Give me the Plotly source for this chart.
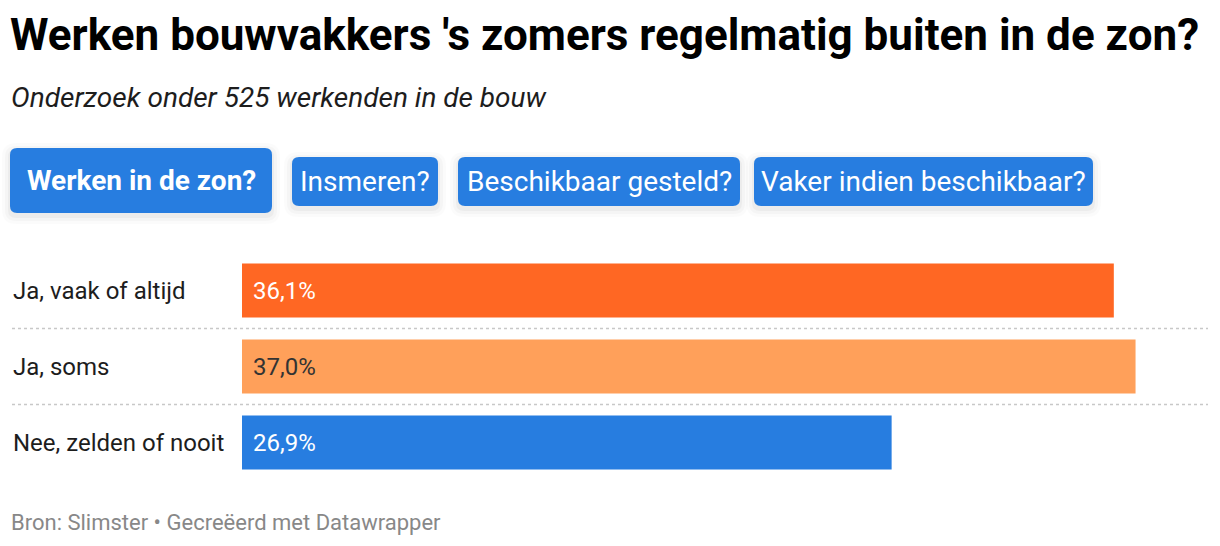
import plotly.graph_objects as go

W, H = 1220, 546

categories = ["Ja, vaak of altijd", "Ja, soms", "Nee, zelden of nooit"]
values = [36.1, 37.0, 26.9]
bar_colors = ["#ff6723", "#ffa05a", "#277de0"]
label_colors = ["#ffffff", "#333333", "#ffffff"]

title = "Werken bouwvakkers 's zomers regelmatig buiten in de zon?"
subtitle = "Onderzoek onder 525 werkenden in de bouw"
tabs = ["Werken in de zon?", "Insmeren?", "Beschikbaar gesteld?", "Vaker indien beschikbaar?"]
footer = "Bron: Slimster • Gecreëerd met Datawrapper"

FONT = "Roboto"


def px(x):
    return x / W


def py(y):
    return 1 - y / H


def rounded_rect(x0, y0, x1, y1, r):
    # pixel coords -> paper path with rounded corners
    pts = [
        f"M {px(x0 + r)} {py(y0)}",
        f"L {px(x1 - r)} {py(y0)}",
        f"Q {px(x1)} {py(y0)} {px(x1)} {py(y0 + r)}",
        f"L {px(x1)} {py(y1 - r)}",
        f"Q {px(x1)} {py(y1)} {px(x1 - r)} {py(y1)}",
        f"L {px(x0 + r)} {py(y1)}",
        f"Q {px(x0)} {py(y1)} {px(x0)} {py(y1 - r)}",
        f"L {px(x0)} {py(y0 + r)}",
        f"Q {px(x0)} {py(y0)} {px(x0 + r)} {py(y0)}",
        "Z",
    ]
    return " ".join(pts)


fig = go.Figure()
fig.add_trace(go.Bar(
    x=values,
    y=categories,
    orientation="h",
    marker=dict(color=bar_colors, line=dict(width=0)),
    width=0.71,
    hoverinfo="skip",
))

shapes = []
annotations = []

# tabs / buttons
tab_boxes = [(10, 148, 272, 213), (292, 157, 438, 206), (458, 157, 740, 206), (754, 157, 1093, 206)]
for i, (label, (x0, y0, x1, y1)) in enumerate(zip(tabs, tab_boxes)):
    # soft shadow
    for k, a in [(8, 0.015), (5, 0.025), (2, 0.035)]:
        shapes.append(dict(type="path", xref="paper", yref="paper",
                           path=rounded_rect(x0 - k, y0 - k + 3, x1 + k, y1 + k + 3, 6 + k),
                           fillcolor=f"rgba(0,0,0,{a})", line=dict(width=0), layer="below"))
    shapes.append(dict(type="path", xref="paper", yref="paper",
                       path=rounded_rect(x0, y0, x1, y1, 7),
                       fillcolor="#277de0", line=dict(width=0), layer="above"))
    annotations.append(dict(
        x=px((x0 + x1) / 2), y=py((y0 + y1) / 2), xref="paper", yref="paper",
        text=f"<b>{label}</b>" if i == 0 else label, showarrow=False,
        font=dict(family=FONT, size=28, color="white"),
        xanchor="center", yanchor="middle",
    ))

# separators between rows
for yv in [0.5, 1.5]:
    shapes.append(dict(type="line", xref="paper", yref="y", x0=px(12), x1=px(1208), y0=yv, y1=yv,
                       line=dict(color="#c8c8c8", width=1.5, dash="dot")))

# row labels and value labels
for cat, v, c in zip(categories, values, label_colors):
    annotations.append(dict(x=px(11), y=cat, xref="paper", yref="y", text=cat, showarrow=False,
                            xanchor="left", yanchor="middle",
                            font=dict(family=FONT, size=24, color="#1d1d1d")))
    annotations.append(dict(x=0, y=cat, xref="x", yref="y", xshift=9,
                            text=f"{v:.1f}%".replace(".", ","), showarrow=False,
                            xanchor="left", yanchor="middle",
                            font=dict(family=FONT, size=24, color=c)))

# title, subtitle, footer
annotations.append(dict(x=px(8), y=py(35), xref="paper", yref="paper", text=f"<b>{title}</b>",
                        showarrow=False, xanchor="left", yanchor="middle",
                        font=dict(family=FONT, size=44, color="#000000")))
annotations.append(dict(x=px(9), y=py(97), xref="paper", yref="paper", text=f"<i>{subtitle}</i>",
                        showarrow=False, xanchor="left", yanchor="middle",
                        font=dict(family=FONT, size=28, color="#1d1d1d")))
annotations.append(dict(x=px(9), y=py(522), xref="paper", yref="paper", text=footer,
                        showarrow=False, xanchor="left", yanchor="middle",
                        font=dict(family=FONT, size=22, color="#888888")))

fig.update_layout(
    width=W, height=H,
    margin=dict(l=0, r=0, t=0, b=0),
    paper_bgcolor="white", plot_bgcolor="white",
    showlegend=False,
    xaxis=dict(domain=[px(242), px(1208)], range=[0, 40], visible=False, fixedrange=True),
    yaxis=dict(domain=[py(480.5), py(252.5)], range=[2.5, -0.5], visible=False,
               categoryorder="array", categoryarray=categories, fixedrange=True),
    shapes=shapes,
    annotations=annotations,
    bargap=0.29,
)

fig.write_html("out.html", config={"displayModeBar": False},
               post_script="document.body.style.margin='0';")
